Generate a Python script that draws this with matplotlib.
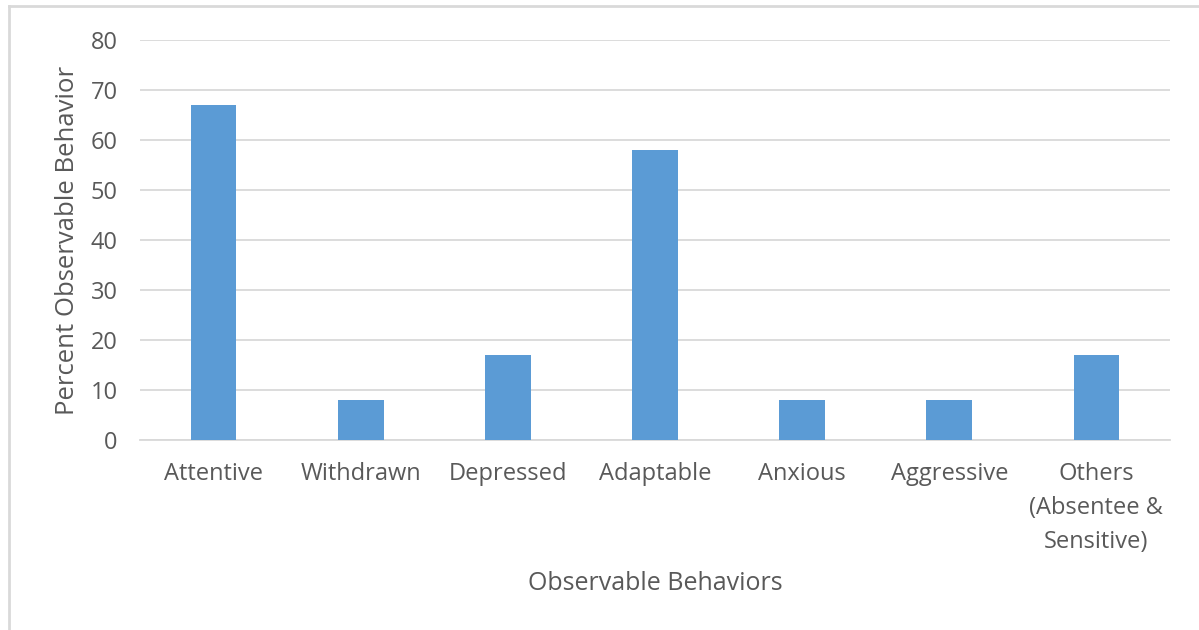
import matplotlib
matplotlib.use("Agg")
import matplotlib.pyplot as plt
from matplotlib.lines import Line2D

categories = ["Attentive", "Withdrawn", "Depressed", "Adaptable", "Anxious",
              "Aggressive", "Others\n(Absentee &\nSensitive)"]
values = [67, 8, 17, 58, 8, 8, 17]
yticks = [0, 10, 20, 30, 40, 50, 60, 70, 80]

W, H, DPI = 1199, 630, 100
text_color = "#595959"
grid_color = "#d9d9d9"
bar_color = "#5b9bd5"

plt.rcParams["font.family"] = ["Open Sans", "DejaVu Sans"]

fig = plt.figure(figsize=(W / DPI, H / DPI), dpi=DPI)
ax = fig.add_axes([140 / W, 1 - 440 / H, (1170 - 140) / W, 400 / H])

x = range(len(categories))
ax.bar(x, values, width=0.31, color=bar_color, zorder=3)

ax.set_xlim(-0.5, len(categories) - 0.5)
ax.set_ylim(0, 80)
ax.set_yticks(yticks)
ax.set_xticks(list(x))
ax.set_xticklabels(categories, linespacing=1.55)
ax.yaxis.grid(True, color=grid_color, linewidth=1.3, zorder=0)
ax.set_axisbelow(True)

for side in ["top", "right", "left"]:
    ax.spines[side].set_visible(False)
ax.spines["bottom"].set_color(grid_color)
ax.spines["bottom"].set_linewidth(1.3)

ax.tick_params(axis="both", length=0, labelsize=17, labelcolor=text_color)
ax.tick_params(axis="y", pad=16)
ax.tick_params(axis="x", pad=16)

ax.set_ylabel("Percent Observable Behavior", fontsize=18.5, color=text_color, labelpad=8)
ax.set_xlabel("Observable Behaviors", fontsize=18, color=text_color, labelpad=12)

# Chart frame on the left and top edges
fig.add_artist(Line2D([8.5 / W, 8.5 / W], [0, 1 - 6 / H], transform=fig.transFigure,
                      color=grid_color, linewidth=2))
fig.add_artist(Line2D([8.5 / W, 1], [1 - 6 / H, 1 - 6 / H], transform=fig.transFigure,
                      color=grid_color, linewidth=2))

fig.savefig("out.png", dpi=DPI, facecolor="white")
